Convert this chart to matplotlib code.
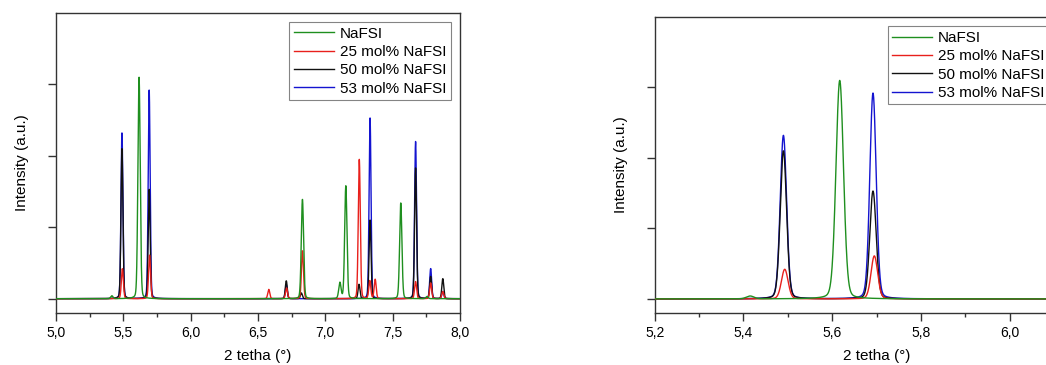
import numpy as np
import matplotlib
matplotlib.use('Agg')
import matplotlib.pyplot as plt
from matplotlib.ticker import FuncFormatter, MultipleLocator, FixedLocator

plt.rcParams['font.family'] = ['Liberation Sans', 'DejaVu Sans']

# Пики (положение 2θ, интенсивность)
labels = ['NaFSI', '25 mol% NaFSI', '50 mol% NaFSI', '53 mol% NaFSI']
colors = ['#1f8f1f', '#e8201c', '#111111', '#1414d0']

green_pos = [5.415, 5.617, 6.830, 7.108, 7.152, 7.560, 7.755]
green_h = [0.04, 3.10, 1.39, 0.22, 1.58, 1.34, 0.03]

red_pos = [5.493, 5.695, 6.580, 6.712, 6.830, 7.252, 7.330, 7.370, 7.670, 7.782, 7.872]
red_h = [0.42, 0.61, 0.13, 0.15, 0.67, 1.95, 0.25, 0.27, 0.24, 0.22, 0.10]

black_pos = [5.490, 5.692, 6.710, 6.822, 7.250, 7.332, 7.670, 7.782, 7.872]
black_h = [2.10, 1.53, 0.25, 0.08, 0.20, 1.10, 1.83, 0.31, 0.28]

blue_pos = [5.490, 5.692, 6.710, 7.332, 7.670, 7.782, 7.872]
blue_h = [2.32, 2.92, 0.20, 2.53, 2.20, 0.42, 0.10]

peak_sets = [(green_pos, green_h, 0.0085), (red_pos, red_h, 0.0075),
             (black_pos, black_h, 0.0072), (blue_pos, blue_h, 0.0072)]

two_theta = np.linspace(5.0, 8.0, 12001)


def profile(pos, h, sigma):
    y = np.zeros_like(two_theta)
    gam = sigma * 1.18
    for p, a in zip(pos, h):
        g = np.exp(-0.5 * ((two_theta - p) / sigma) ** 2)
        lz = 1.0 / (1.0 + ((two_theta - p) / gam) ** 2)
        y += a * (0.85 * g + 0.15 * lz)
    return y


curves = [profile(p, h, s) for p, h, s in peak_sets]
zorders = [5, 4, 3, 2]

fig = plt.figure(figsize=(10.46, 3.65), dpi=100)
ax1 = fig.add_axes([0.0535, 0.1425, 0.3863, 0.8219])
ax2 = fig.add_axes([0.626, 0.1425, 0.424, 0.8109])

comma = FuncFormatter(lambda v, pos: f'{v:.1f}'.replace('.', ','))

setup = [(ax1, (5.0, 8.0), np.arange(5.0, 8.01, 0.5), 0.25),
         (ax2, (5.2, 6.2), np.arange(5.2, 6.01, 0.2), 0.1)]
for ax, xlim, major, minor in setup:
    for y, lab, c, z in zip(curves, labels, colors, zorders):
        ax.plot(two_theta, y, color=c, lw=1.0, label=lab, zorder=z)
    ax.set_xlim(*xlim)
    ax.set_ylim(-0.2, 4.0)
    ax.xaxis.set_major_locator(FixedLocator(major))
    ax.xaxis.set_minor_locator(MultipleLocator(minor))
    ax.xaxis.set_major_formatter(comma)
    ax.set_yticks([0, 1, 2, 3])
    ax.set_yticklabels([])
    ax.tick_params(axis='both', which='major', direction='out', length=6, width=1,
                   labelsize=10, color='#333333', top=False, right=False)
    ax.tick_params(axis='x', which='minor', direction='out', length=3, width=1, color='#333333')
    for sp in ax.spines.values():
        sp.set_color('#333333')
        sp.set_linewidth(1.0)
    ax.set_xlabel('2 tetha (°)', fontsize=11, labelpad=6)
    ax.set_ylabel('Intensity (a.u.)', fontsize=11, labelpad=10)

leg_kw = dict(fontsize=11, frameon=True, fancybox=False, edgecolor='#666666',
              handlelength=2.6, handletextpad=0.4, borderpad=0.3, labelspacing=0.28)
leg1 = ax1.legend(loc='upper right', borderaxespad=0.6, **leg_kw)
# правая легенда уходит за край, как в оригинале
leg2 = ax2.legend(loc='upper left', bbox_to_anchor=(0.525, 0.968), borderaxespad=0.0, **leg_kw)
for leg in (leg1, leg2):
    leg.get_frame().set_linewidth(0.8)

fig.savefig('out.png', dpi=100)
